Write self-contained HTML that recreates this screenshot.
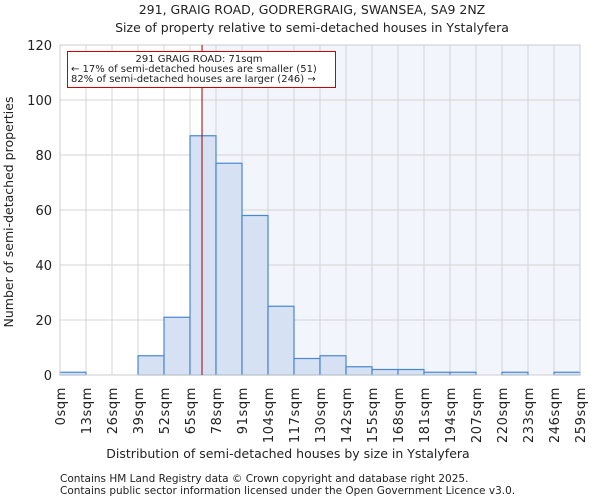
<!DOCTYPE html>
<html><head><meta charset="utf-8"><style>
body{margin:0;background:#fff;font-family:"DejaVu Sans","Liberation Sans",sans-serif}
svg text{font-family:"DejaVu Sans","Liberation Sans",sans-serif;fill:#222}
</style></head><body>
<svg id="chart" width="600" height="500" xmlns="http://www.w3.org/2000/svg">
<text x="312" y="14" font-size="12.5" text-anchor="middle">291, GRAIG ROAD, GODRERGRAIG, SWANSEA, SA9 2NZ</text>
<text x="312" y="32" font-size="12.5" text-anchor="middle">Size of property relative to semi-detached houses in Ystalyfera</text>
<g id="plot"></g>
<text x="288" y="458" font-size="12.5" text-anchor="middle">Distribution of semi-detached houses by size in Ystalyfera</text>
<text transform="translate(13,212) rotate(-90)" font-size="12.5" text-anchor="middle">Number of semi-detached properties</text>
<text x="60" y="482" font-size="10.5" fill="#444">Contains HM Land Registry data © Crown copyright and database right 2025.</text>
<text x="60" y="494" font-size="10.5" fill="#444">Contains public sector information licensed under the Open Government Licence v3.0.</text>
</svg>
<script>
const binLabels=["0sqm","13sqm","26sqm","39sqm","52sqm","65sqm","78sqm","91sqm","104sqm","117sqm","130sqm","142sqm","155sqm","168sqm","181sqm","194sqm","207sqm","220sqm","233sqm","246sqm","259sqm"];
const binEdges=[0,13,26,39,52,65,78,91,104,117,130,142,155,168,181,194,207,220,233,246,259];
const counts=[1,0,0,7,21,87,77,58,25,6,7,3,2,2,1,1,0,1,0,1];
const yTicks=[0,20,40,60,80,100,120];
const propertySize=71;
const L=60,R=580,T=45,B=375,ymax=120;
const NS="http://www.w3.org/2000/svg";
const g=document.getElementById('plot');
function idxX(i){return L+(R-L)*i/counts.length;}
function valX(v){let i=0;while(i<binEdges.length-2&&v>binEdges[i+1])i++;return idxX(i)+(v-binEdges[i])/(binEdges[i+1]-binEdges[i])*(idxX(i+1)-idxX(i));}
function y(v){return B-(B-T)*v/ymax;}
function mk(t,a){const e=document.createElementNS(NS,t);for(const k in a)e.setAttribute(k,a[k]);g.appendChild(e);return e;}
const px=valX(propertySize);
let e=mk('rect',{x:px,y:T,width:R-px,height:B-T,fill:'#f2f5fc'});


yTicks.forEach(t=>{let l=mk('line',{x1:L,x2:R,y1:y(t),y2:y(t),stroke:'#d4d4d4','stroke-width':1});


let tx=mk('text',{x:L-8,y:y(t)+5,'font-size':13,'text-anchor':'end'});tx.textContent=t;

});
binLabels.forEach((s,i)=>{const x=idxX(i);let l=mk('line',{x1:x,x2:x,y1:T,y2:B,stroke:'#d4d4d4','stroke-width':1});


let tx=mk('text',{transform:`translate(${x+5},${B+12}) rotate(-90)`,'font-size':13,'letter-spacing':'0.6','text-anchor':'end'});tx.textContent=s;

});
counts.forEach((c,i)=>{if(c<=0)return;let r=mk('rect',{x:idxX(i),y:y(c),width:idxX(i+1)-idxX(i),height:B-y(c),fill:'#d6e1f3',stroke:'#4a86d4','stroke-width':1.2});

});
e=mk('rect',{x:L,y:T,width:R-L,height:B-T,fill:'none',stroke:'#ccc','stroke-width':1});


e=mk('line',{x1:px,x2:px,y1:T,y2:B,stroke:'#a00000','stroke-width':1});


e=mk('rect',{x:67.5,y:51.5,width:268,height:36,fill:'#fff',stroke:'#c00','stroke-width':1});


["291 GRAIG ROAD: 71sqm","← 17% of semi-detached houses are smaller (51)","82% of semi-detached houses are larger (246) →"].forEach((s,i)=>{let t=mk('text',{x:i==0?199:71,y:62+i*10,'font-size':10,'text-anchor':i==0?'middle':'start'});t.textContent=s;

});
</script>
</body></html>
